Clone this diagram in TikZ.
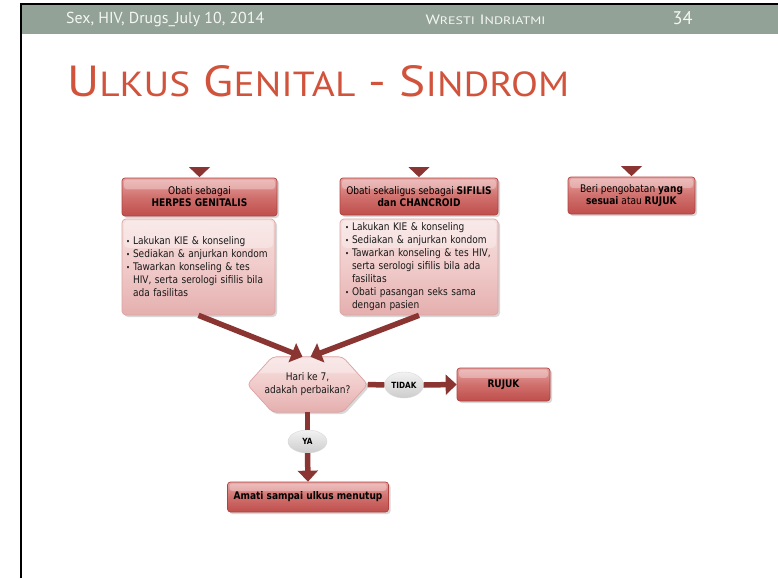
\documentclass[tikz,border=0pt]{standalone}
\usepackage{graphicx}
\usepackage{fontspec}
\setmainfont{DejaVu Sans}
\newfontfamily\bodyfont{DejaVu Sans}[FakeStretch=0.86]
\newfontfamily\headfont{PT Sans}
\usetikzlibrary{calc,shadows,arrows.meta,shapes.geometric}

\definecolor{barcol}{HTML}{93A296}
\definecolor{bartext}{HTML}{F4F6F4}
\definecolor{titlecol}{HTML}{D2533C}
\definecolor{flowcol}{HTML}{8B3533}
\definecolor{hdtop}{HTML}{E6A4A2}
\definecolor{hdmid}{HTML}{D0706D}
\definecolor{hdbot}{HTML}{BF4E4B}
\definecolor{hdline}{HTML}{B0423F}
\definecolor{bdtop}{HTML}{F6E1E0}
\definecolor{bdmid}{HTML}{F0CBCA}
\definecolor{bdbot}{HTML}{E4AFAE}
\definecolor{bdline}{HTML}{DCA3A1}
\definecolor{ovtop}{HTML}{F2F2F2}
\definecolor{ovbot}{HTML}{CDCDCD}

% small capitals built from scaled capitals
\newcommand\smc[1]{\scalebox{0.8}{#1}}
% bullet items for the instruction boxes
\newcommand\itm[1]{\makebox[7pt][l]{\scalebox{0.75}{\textbullet}}#1}
\newcommand\cnt[1]{\hspace*{7pt}#1}

\tikzset{
  boxshadow/.style={drop shadow={shadow xshift=2pt,shadow yshift=-2pt,opacity=0.25,fill=black!60}},
  gloss/.style={path picture={
      \fill[white,opacity=0.3] ($(path picture bounding box.north west)+(2,1.5)$)
        rectangle ($(path picture bounding box.north east)!0.3!(path picture bounding box.south east)+(-2,0)$);}},
  headbox/.style={boxshadow,gloss,draw=hdline,line width=0.7pt,rounded corners=3pt,
      top color=hdtop,bottom color=hdbot,middle color=hdmid,
      inner sep=0pt,align=center,text=black,
      font=\bodyfont\fontsize{10.5}{12}\selectfont},
  bodybox/.style={boxshadow,gloss,draw=bdline,line width=0.7pt,rounded corners=4pt,
      top color=bdtop,bottom color=bdbot,middle color=bdmid,
      inner ysep=0pt,align=left,text=black!90,
      font=\bodyfont\fontsize{10.5}{13}\selectfont},
  tag/.style={ellipse,draw=white!85!black,line width=0.4pt,top color=ovtop,bottom color=ovbot,
      inner sep=0pt,text=black,font=\bodyfont\bfseries\fontsize{8.5}{10}\selectfont},
  flow/.style={draw=flowcol,line width=5.5pt},
  flowarrow/.style={flow,-{Triangle[length=11pt,width=20pt]}},
  droptip/.style={fill=flowcol},
  bartxt/.style={inner sep=0pt,text=bartext},
}

\begin{document}
\begin{tikzpicture}[x=1pt,y=-1pt]
\useasboundingbox (0,0) rectangle (778,578);
\fill[white] (0,0) rectangle (778,578);

% slide header bar and frame
\fill[barcol] (22,5) rectangle (778,34);
\draw[line width=2.4pt] (21,578) -- (21,4) -- (778,4);
\node[bartxt,anchor=base west,font=\headfont\fontsize{14}{14}\selectfont] (date) at (66,24)
  {\resizebox{198pt}{!}{Sex, HIV, Drugs\_July 10, 2014}};
\node[bartxt,anchor=base,font=\headfont\fontsize{13.5}{14}\selectfont] (author) at (485.5,24)
  {\resizebox{120pt}{9.5pt}{W\smc{RESTI} I\smc{NDRIATMI}}};
\node[bartxt,anchor=base,font=\headfont\fontsize{14}{14}\selectfont] (page) at (682.5,25)
  {\resizebox{!}{13pt}{34}};

% slide title
\node[anchor=base west,inner sep=0pt,text=titlecol,font=\headfont\fontsize{44}{44}\selectfont] (title) at (67,96)
  {\resizebox{502pt}{31pt}{U\smc{LKUS} G\smc{ENITAL} - S\smc{INDROM}}};

% treatment boxes
\node[headbox,minimum width=155pt,minimum height=38pt] (h1) at (199.5,197)
  {Obati sebagai\\\textbf{HERPES GENITALIS}};
\node[bodybox,minimum height=96pt,text width=145pt,inner xsep=4pt] (b1) at (198.5,267)
  {\itm{Lakukan KIE \& konseling}\\
   \itm{Sediakan \& anjurkan kondom}\\
   \itm{Tawarkan konseling \& tes}\\
   \cnt{HIV, serta serologi sifilis bila}\\
   \cnt{ada fasilitas}};

\node[headbox,minimum width=158pt,minimum height=37pt] (h2) at (419,196.5)
  {Obati sekaligus sebagai \textbf{SIFILIS}\\\textbf{dan CHANCROID}};
\node[bodybox,minimum height=96pt,text width=148pt,inner xsep=5pt] (b2) at (419,267)
  {\itm{Lakukan KIE \& konseling}\\
   \itm{Sediakan \& anjurkan kondom}\\
   \itm{Tawarkan konseling \& tes HIV,}\\
   \cnt{serta serologi sifilis bila ada}\\
   \cnt{fasilitas}\\
   \itm{Obati pasangan seks sama}\\
   \cnt{dengan pasien}};

\node[headbox,minimum width=127pt,minimum height=37pt] (h3) at (631.5,195.5)
  {Beri pengobatan \textbf{yang}\\\textbf{sesuai} atau \textbf{RUJUK}};

% incoming pointers above the treatment boxes
\foreach \n in {h1,h2,h3}
  \fill[droptip] ($(\n.north)+(-10.5,-10.5)$) -- ($(\n.north)+(10.5,-10.5)$) -- ($(\n.north)+(0,-0.5)$) -- cycle;

% decision
\node[minimum width=120pt,minimum height=55pt,inner sep=0pt] (hex) at (307.5,384.5) {};
\path[boxshadow,gloss,draw=bdline,line width=0.7pt,rounded corners=4pt,
      top color=bdtop,bottom color=bdbot,middle color=bdmid]
  (hex.west) -- ($(hex.north west)+(25,0)$) -- ($(hex.north east)+(-25,0)$) -- (hex.east)
  -- ($(hex.south east)+(-25,0)$) -- ($(hex.south west)+(25,0)$) -- cycle;
\node[align=center,inner sep=0pt,text=black!90,font=\bodyfont\fontsize{10.5}{13}\selectfont]
  (hextext) at (hex.center) {Hari ke 7,\\adakah perbaikan?};

\node[headbox,minimum width=93pt,minimum height=33pt,font=\bodyfont\bfseries\fontsize{10.5}{12}\selectfont]
  (rujuk) at (503.5,384.5) {RUJUK};
\node[headbox,minimum width=161pt,minimum height=30pt,font=\bodyfont\bfseries\fontsize{10.5}{12}\selectfont]
  (amati) at (308,497) {Amati sampai ulkus menutup};

\node[tag,minimum width=39pt,minimum height=26pt] (tidak) at (404,385) {TIDAK};
\node[tag,minimum width=39pt,minimum height=23pt] (ya) at (307.5,441.5) {YA};

% connectors
\draw[flowarrow] (b1.south) -- ($(hex.north)+(-5,0)$);
\draw[flowarrow] (b2.south) -- ($(hex.north)+(3,0)$);
\draw[flow] (hex.east) -- (tidak.west);
\draw[flowarrow] (tidak.east) -- (rujuk.west);
\draw[flow] (hex.south) -- (ya.north);
\draw[flowarrow] (ya.south) -- (amati.north);
\end{tikzpicture}
\end{document}
